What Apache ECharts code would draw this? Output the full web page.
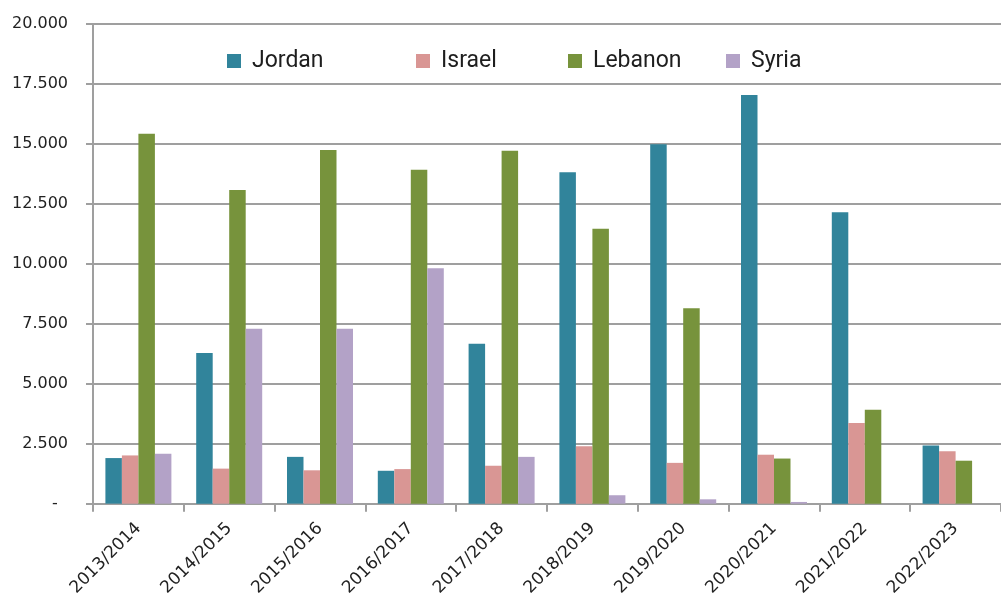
<!DOCTYPE html>
<html>
<head>
<meta charset="utf-8">
<script src="https://cdn.jsdelivr.net/npm/echarts@6/dist/echarts.min.js"></script>
<style>
  html, body { margin: 0; padding: 0; background: #ffffff; }
  #chart { width: 1001px; height: 599px; }
</style>
</head>
<body>
<div id="chart"></div>
<script>
// School years on the category axis
const years = ['2013/2014', '2014/2015', '2015/2016', '2016/2017', '2017/2018',
               '2018/2019', '2019/2020', '2020/2021', '2021/2022', '2022/2023'];

// Values per country
const jordan  = [1900, 6280, 1950, 1370, 6670, 13820, 14990, 17040, 12150, 2420];
const israel  = [2010, 1460, 1390, 1440, 1580, 2390, 1700, 2040, 3360, 2180];
const lebanon = [15420, 13080, 14750, 13920, 14710, 11460, 8150, 1880, 3920, 1790];
const syria   = [2080, 7290, 7290, 9820, 1950, 350, 180, 70, null, null];

// Value-axis tick labels (step 2.500); the zero label is a padded dash
const yTickLabels = ['-  ', '2.500', '5.000', '7.500', '10.000', '12.500', '15.000', '17.500', '20.000'];

const colors = {
  Jordan: '#31849B',
  Israel: '#D99694',
  Lebanon: '#77933C',
  Syria: '#B3A2C7'
};

const gridColor = '#9f9f9f';
const labelFont = '"DejaVu Sans", Verdana, sans-serif';

const legendLeft = { Jordan: 227, Israel: 416, Lebanon: 568, Syria: 726 };

function makeLegend(name) {
  return {
    data: [name],
    left: legendLeft[name],
    top: 49,
    padding: 0,
    icon: 'rect',
    itemWidth: 14,
    itemHeight: 14,
    selectedMode: false,
    textStyle: {
      fontFamily: 'Roboto',
      fontSize: 23,
      lineHeight: 24,
      color: '#1e1e1e',
      padding: [0, 0, 0, 6]
    }
  };
}

function makeSeries(name, values) {
  return {
    name: name,
    type: 'bar',
    data: values,
    barWidth: 16.5,
    barGap: '0%',
    itemStyle: { color: colors[name] },
    emphasis: { disabled: true }
  };
}

const chart = echarts.init(document.getElementById('chart'), null, { renderer: 'canvas' });

chart.setOption({
  animation: false,
  backgroundColor: '#ffffff',
  legend: ['Jordan', 'Israel', 'Lebanon', 'Syria'].map(makeLegend),
  grid: { left: 93, right: -10, top: 24, bottom: 95, containLabel: false },
  xAxis: {
    type: 'category',
    data: years,
    boundaryGap: true,
    axisLine: { show: true, lineStyle: { color: gridColor, width: 2 } },
    axisTick: { show: true, alignWithLabel: false, length: 8, lineStyle: { color: gridColor, width: 2 } },
    axisLabel: {
      interval: 0,
      rotate: 45,
      margin: 22,
      fontFamily: labelFont,
      fontSize: 17,
      color: '#222222'
    },
    splitLine: { show: false }
  },
  yAxis: {
    type: 'value',
    min: 0,
    max: 20000,
    interval: 2500,
    axisLine: { show: true, lineStyle: { color: gridColor, width: 2 } },
    axisTick: { show: true, length: 7, lineStyle: { color: gridColor, width: 2 } },
    axisLabel: {
      margin: 25,
      fontFamily: labelFont,
      fontSize: 16,
      color: '#222222',
      formatter: function (v) { return yTickLabels[Math.round(v / 2500)]; }
    },
    splitLine: { show: true, lineStyle: { color: gridColor, width: 2 } }
  },
  series: [
    makeSeries('Jordan', jordan),
    makeSeries('Israel', israel),
    makeSeries('Lebanon', lebanon),
    makeSeries('Syria', syria)
  ]
});
</script>
</body>
</html>
